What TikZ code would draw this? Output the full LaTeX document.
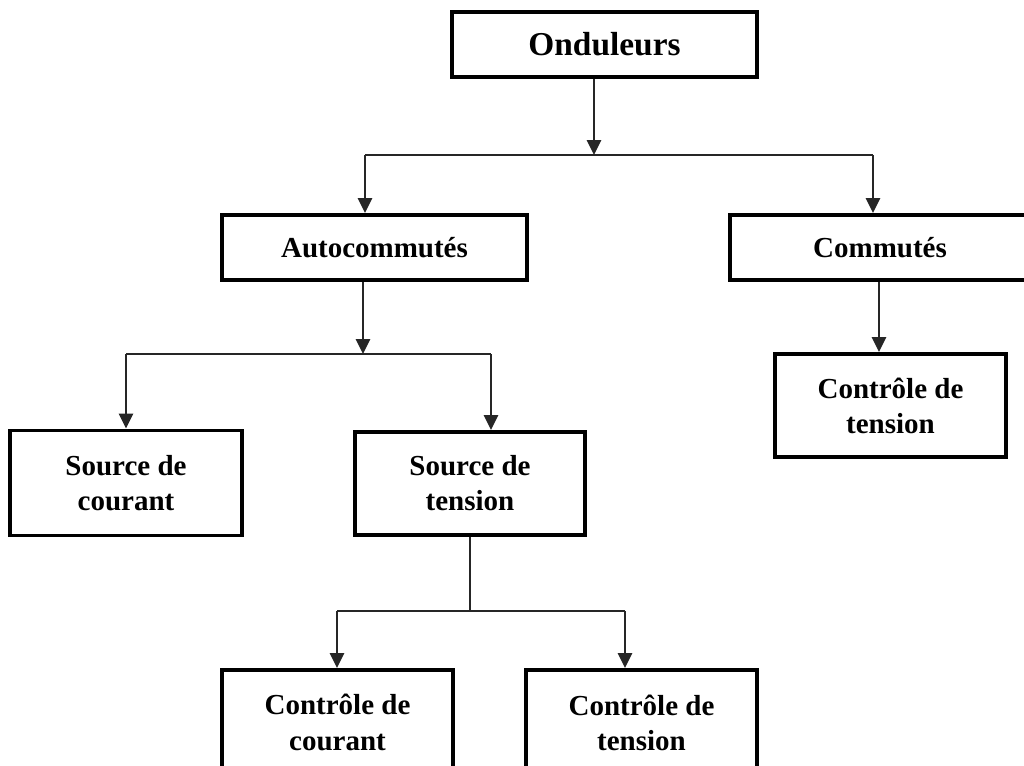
\documentclass[tikz,border=0pt]{standalone}
\usepackage{fontspec}
\setmainfont{Liberation Serif}
\usetikzlibrary{arrows.meta}

\begin{document}
\begin{tikzpicture}[x=0.02cm, y=-0.02cm,
    box/.style={draw, line width=2.2pt, inner sep=2pt, align=center,
      font=\bfseries\fontsize{16.5}{20}\selectfont},
    link/.style={line width=1.5pt, black!85, -{Triangle[width=8pt,length=8.5pt]}},
    wire/.style={line width=1.5pt, black!85}]
  \useasboundingbox (0,0) rectangle (1024,765);
  % boxes
  \node[box, minimum width=6.1cm, minimum height=1.3cm,
    font=\bfseries\fontsize{19}{23}\selectfont] (ond) at (604.5,44.5) {Onduleurs};
  \node[box, minimum width=6.1cm, minimum height=1.3cm] (auto) at (374.5,247.5) {Autocommutés};
  \node[box, minimum width=6.0cm, minimum height=1.3cm] (comm) at (880,247.5) {Commutés};
  \node[box, minimum width=4.62cm, minimum height=2.06cm] (ctc) at (890.5,405.5) {Contrôle de\\tension};
  \node[box, minimum width=4.64cm, minimum height=2.1cm] (scour) at (126,483) {Source de\\courant};
  \node[box, minimum width=4.6cm, minimum height=2.06cm] (sten) at (470,483.5) {Source de\\tension};
  \node[box, minimum width=4.62cm, minimum height=2.1cm] (ccour) at (337.5,722.5) {Contrôle de\\courant};
  \node[box, minimum width=4.62cm, minimum height=2.1cm] (cten) at (641.5,722.5) {Contrôle de\\tension};
  % junctions
  \coordinate (j1) at (594,155); \coordinate (ja) at (365,155); \coordinate (jb) at (873,155);
  \coordinate (j2) at (363,354); \coordinate (jc) at (126,354); \coordinate (jd) at (491,354);
  \coordinate (j3) at (470,611); \coordinate (je) at (337,611); \coordinate (jf) at (625,611);
  \coordinate (k) at (879,320);
  % stems
  \draw[link] (j1 |- ond.south) -- (j1);
  \draw[link] (j2 |- auto.south) -- (j2);
  \draw[wire] (j3 |- sten.south) -- (j3);
  \draw[link] (k |- comm.south) -- (k |- ctc.north);
  % bars
  \draw[wire] (ja) -- (jb);
  \draw[wire] (jc) -- (jd);
  \draw[wire] (je) -- (jf);
  % branches
  \foreach \j/\n in {ja/auto, jb/comm, jc/scour, jd/sten, je/ccour, jf/cten} {
    \draw[link] (\j) -- (\j |- \n.north);
  }
\end{tikzpicture}
\end{document}
